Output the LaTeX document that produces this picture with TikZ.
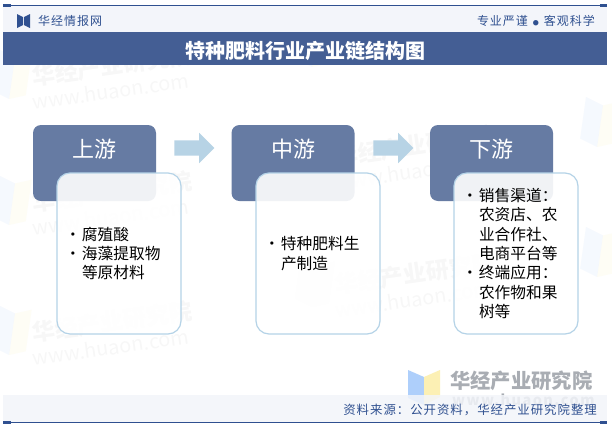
\documentclass[tikz,border=0pt]{standalone}
\usepackage{fontspec}
\setmainfont{Noto Sans CJK SC}
\usetikzlibrary{shapes.arrows}
\definecolor{navy}{HTML}{2F5090}
\definecolor{band}{HTML}{445E94}
\definecolor{pale}{HTML}{F3F5FA}
\definecolor{head}{HTML}{667BA3}
\definecolor{edge}{HTML}{B5D3E7}
\definecolor{arrowc}{HTML}{B7D3E5}
\definecolor{wmblue}{HTML}{AECFFB}
\definecolor{wmyellow}{HTML}{FCF0B4}
\definecolor{wmgray}{HTML}{A9ADB3}
\newfontfamily\spaced[LetterSpace=8]{Noto Sans CJK SC}
\newcommand{\wicon}[2]{%
  \begin{scope}[shift={(#1,#2)},rotate=-8,opacity=.12]
    \fill[wmblue] (-38,-26) -- (-20,-20) -- (-20,22) -- (-38,16) -- cycle;
    \fill[wmyellow] (-20,-20) -- (-4,-26) -- (-4,16) -- (-20,22) -- cycle;
  \end{scope}}
\newcommand{\wmark}[3]{%
  \wicon{#2}{#3}
  \node[wmtext,rotate=8,anchor=west,font=\fontsize{23}{23}\selectfont\bfseries] (wa#1) at (#2,#3-3) {华经产业研究院};
  \node[wmtext,rotate=8,anchor=west,font=\fontsize{20}{20}\selectfont] (wb#1) at (#2,#3+22) {www.huaon.com};
}
\tikzset{
  x=1pt,y=-1pt,
  wmtext/.style={text=black,text opacity=.03,inner sep=0},
  headbox/.style={fill=head,rounded corners=8,minimum width=123,minimum height=76,inner sep=0,text=white,font=\fontsize{22}{22}\selectfont},
  bodybox/.style={draw=edge,line width=1.2,fill=white,fill opacity=.9,text opacity=1,rounded corners=13,minimum width=124,minimum height=161,inner xsep=0,inner ysep=0,text width=124,align=left,font=\fontsize{15.7}{19.3}\selectfont,text=black},
  flow/.style={single arrow,fill=arrowc,single arrow head extend=7.5,single arrow head indent=0,minimum height=40,inner sep=0},
  tab/.style={fill=navy},
}
\newcommand{\bl}{\hspace*{8pt}\makebox[17pt][l]{•}}
\newcommand{\cn}{\hspace*{25pt}}
\begin{document}
\begin{tikzpicture}
\useasboundingbox (0,0) rectangle (612,426);
\fill[white] (0,0) rectangle (612,426);
% watermarks
\wmark{a}{32}{80}
\wmark{b}{32}{206}
\wmark{c}{32}{336}
\wicon{335}{48}
\wmark{e}{335}{160}
\wmark{f}{335}{288}
\wicon{620}{128}
\wicon{620}{258}
% big watermark
\fill[wmblue] (408,370) -- (424,377) -- (424,405) -- (408,398) -- cycle;
\fill[wmyellow] (424,377) -- (440,370) -- (440,397) -- (424,405) -- cycle;
\node[anchor=west,inner sep=0,text=wmgray,font=\fontsize{20.3}{20}\selectfont\bfseries] (wmcn) at (450,381) {华经产业研究院};
\node[anchor=west,inner sep=0,text=wmgray,font=\fontsize{14.5}{16}\selectfont\bfseries] (wmen) at (452,400) {\addfontfeature{LetterSpace=10}www.huaon.com};
% header and footer
\fill[pale] (3,5) rectangle (607,32);
\fill[band] (3,32) rectangle (607,65);
\fill[pale,opacity=.85] (3,395) rectangle (607,422);
\draw[navy,line width=.9] (3,5) -- (607,5);
\draw[navy,line width=.9] (3,422) -- (607,422);
\fill[tab] (3,4) rectangle (11,6.7);
\fill[tab] (600,4) rectangle (607,6.7);
\fill[tab] (3,421) rectangle (11,423.7);
\fill[tab] (600,421) rectangle (607,423.7);
\fill[navy] (17,14) -- (23,17) -- (23,25) -- (17,28) -- cycle;
\fill[navy] (30,14) -- (24,17) -- (24,25) -- (30,28) -- cycle;
\node[anchor=west,inner sep=0,text=navy,font=\fontsize{12}{12}\selectfont\spaced] (brand) at (38,21) {华经情报网};
\node[anchor=east,inner sep=0,text=navy,font=\fontsize{12}{12}\selectfont\spaced] (motto) at (595,20.5) {专业严谨\hspace{5pt}{\fontsize{6}{6}\selectfont ●}\hspace{5pt}客观科学};
\node[inner sep=0,text=white,font=\fontsize{20}{20}\selectfont\bfseries] (title) at (305.5,51) {特种肥料行业产业链结构图};
\node[anchor=east,inner sep=0,text=navy,font=\fontsize{12.4}{13}\selectfont\spaced] (source) at (597,409.5) {资料来源：公开资料，华经产业研究院整理};
% stages
\node[headbox] (h1) at (94.5,163) {\raisebox{6pt}[0pt][0pt]{上游}};
\node[headbox] (h2) at (293,163) {\raisebox{6pt}[0pt][0pt]{中游}};
\node[headbox] (h3) at (491.5,163) {\raisebox{6pt}[0pt][0pt]{下游}};
\node[bodybox] (b1) at (119,253.5) {\bl 腐殖酸\\\bl 海藻提取物\\\cn 等原材料};
\node[bodybox] (b2) at (318,253.5) {\bl 特种肥料生\\\cn 产制造};
\node[bodybox] (b3) at (516,253.5) {\bl 销售渠道：\\\cn 农资店、农\\\cn 业合作社、\\\cn 电商平台等\\\bl 终端应用：\\\cn 农作物和果\\\cn 树等};
\node[flow] (a1) at (190.5,148) {\rule{0pt}{15pt}};
\node[flow] (a2) at (389.5,148) {\rule{0pt}{15pt}};
\end{tikzpicture}
\end{document}
